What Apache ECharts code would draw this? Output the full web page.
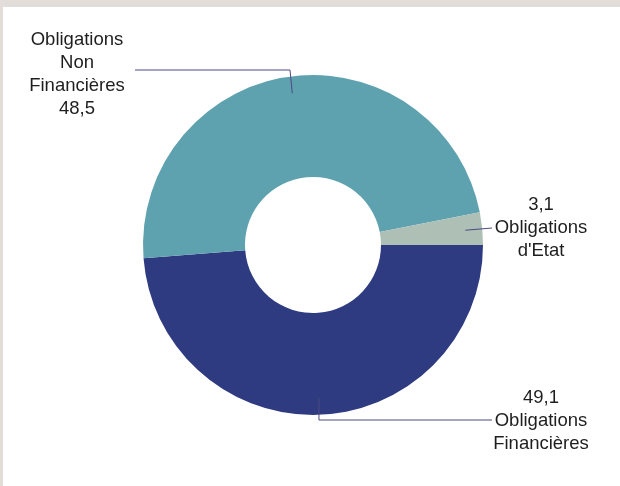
<!DOCTYPE html>
<html>
<head>
<meta charset="utf-8">
<script src="https://cdn.jsdelivr.net/npm/echarts@6/dist/echarts.min.js"></script>
<style>
html,body{margin:0;padding:0;background:#fff;}
#c{width:620px;height:486px;}
</style>
</head>
<body>
<div id="c"></div>
<script>
// Data
const categories = ['Obligations Financières', 'Obligations Non Financières', "Obligations d'Etat"];
const values = [49.1, 48.5, 3.1];
const colors = ['#2e3b80', '#5fa2af', '#aebfb5'];

const fmt = v => String(v).replace('.', ',');
const labelTexts = [
  v => fmt(v) + '\nObligations\nFinancières',
  v => 'Obligations\nNon\nFinancières\n' + fmt(v),
  v => fmt(v) + "\nObligations\nd'Etat"
];

const CX = 313, CY = 245, R0 = 68, R1 = 170;
// label anchor placements (layout only)
const labelPos = [
  {x: 541, y: 421, line: (s) => [s, [s[0], 420], [492, 420]]},
  {x: 77, y: 74, line: (s) => [s, [290, 70], [135, 70]]},
  {x: 541, y: 228, line: (s) => [s, [480, 229], [492, 228]]}
];

const base = {
  type: 'pie',
  center: [CX, CY],
  radius: [R0, R1],
  startAngle: 0,
  clockwise: true,
  emphasis: {disabled: true},
  silent: true
};

const chart = echarts.init(document.getElementById('c'));
chart.setOption({
  backgroundColor: '#ffffff',
  animation: false,
  graphic: [
    {type: 'rect', shape: {x: 0, y: 0, width: 620, height: 7}, style: {fill: '#e2ddd8'}, silent: true},
    {type: 'rect', shape: {x: 0, y: 0, width: 3, height: 486}, style: {fill: '#e2ddd8'}, silent: true}
  ],
  series: [
    Object.assign({}, base, {
      z: 2,
      label: {show: false},
      labelLine: {show: false},
      itemStyle: {borderWidth: 0},
      data: categories.map((n, i) => ({name: n, value: values[i], itemStyle: {color: colors[i]}}))
    }),
    Object.assign({}, base, {
      z: 5,
      itemStyle: {color: 'rgba(0,0,0,0)', borderWidth: 0},
      label: {
        show: true,
        position: 'outside',
        color: '#1e1e1e',
        fontFamily: 'Liberation Sans, Arial, sans-serif',
        fontSize: 18.5,
        lineHeight: 23,
        align: 'center',
        overflow: 'none',
        formatter: p => labelTexts[p.dataIndex](p.value)
      },
      labelLine: {
        show: true,
        showAbove: true,
        lineStyle: {color: '#4b4a82', width: 1}
      },
      labelLayout: function (params) {
        const i = params.dataIndex;
        const lp = labelPos[i];
        let start = params.labelLinePoints ? params.labelLinePoints[0] : [CX, CY - 1];
        const dx = start[0] - CX, dy = start[1] - CY;
        const d = Math.sqrt(dx * dx + dy * dy) || 1;
        const rr = 153;
        start = [CX + dx / d * rr, CY + dy / d * rr];
        return {
          x: lp.x,
          y: lp.y,
          width: 140,
          align: 'center',
          verticalAlign: 'middle',
          labelLinePoints: lp.line(start)
        };
      },
      data: categories.map((n, i) => ({name: n, value: values[i]}))
    })
  ]
});
</script>
</body>
</html>
